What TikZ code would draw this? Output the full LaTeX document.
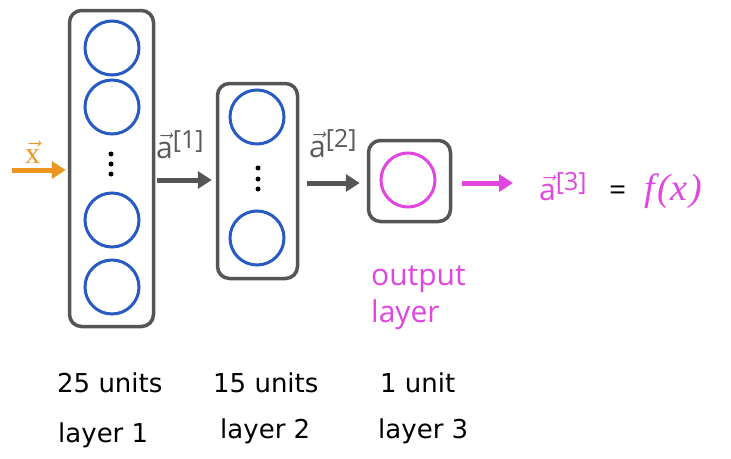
\RequirePackage{fix-cm}
\documentclass[tikz,border=0pt]{standalone}
\usepackage{fontspec}
\setmainfont{Open Sans}
\newfontfamily\botfont{DejaVu Sans}
\newfontfamily\xfont{Liberation Serif}
\usetikzlibrary{arrows.meta}
\definecolor{boxgray}{RGB}{85,85,85}
\definecolor{nblue}{RGB}{40,90,195}
\definecolor{xorange}{RGB}{235,150,30}
\definecolor{outmag}{RGB}{225,70,225}
\definecolor{labgray}{RGB}{90,90,90}
\newcommand\avec[1]{$\vec{\mbox{a}}$\raisebox{10pt}{\fontsize{25}{28}\selectfont[#1]}}
\tikzset{
 layerbox/.style={draw=boxgray, line width=3.5pt, rounded corners=12pt, inner sep=0pt},
 neuron/.style={circle, draw=nblue, line width=3pt, minimum size=54pt, inner sep=0pt},
 dotmark/.style={circle, fill=black, minimum size=5pt, inner sep=0pt},
 arr/.style={line width=5pt, -{Triangle[length=14pt,width=17pt]}},
 lab/.style={inner sep=0pt, anchor=base west, font=\fontsize{30}{36}\selectfont, text=labgray},
 bot/.style={inner sep=0pt, anchor=base west, font=\botfont\fontsize{26}{30}\selectfont},
}
\begin{document}
\begin{tikzpicture}[x=1pt,y=-1pt]
\useasboundingbox[fill=white] (0,0) rectangle (731,458);
% layer 1
\node[layerbox, minimum width=84pt, minimum height=316pt] (box1) at (111.5,168.5) {};
\node[neuron] (c11) at (112,48) {};
\node[neuron] (c12) at (112,107) {};
\node[neuron] (c13) at (112,220) {};
\node[neuron] (c14) at (112,287) {};
\node[dotmark] (d11) at (111,154) {};
\node[dotmark] (d12) at (111,164) {};
\node[dotmark] (d13) at (111,174) {};
% layer 2
\node[layerbox, minimum width=80pt, minimum height=195pt] (box2) at (257.5,181) {};
\node[neuron] (c21) at (257,117) {};
\node[neuron] (c22) at (257,238) {};
\node[dotmark] (d21) at (258,168) {};
\node[dotmark] (d22) at (258,179) {};
\node[dotmark] (d23) at (258,189) {};
% layer 3
\node[layerbox, minimum width=82pt, minimum height=81pt] (box3) at (409.5,181) {};
\node[neuron, draw=outmag] (c3) at (408,180) {};
% input
\coordinate (xin) at (12,170);
\draw[arr, draw=xorange, fill=xorange] (xin) -- ([xshift=-2pt]xin -| box1.west);
\node[inner sep=0pt, anchor=base west, text=xorange, font=\xfont\fontsize{30}{34}\selectfont] (xlab) at (25,163) {$\vec{\mbox{x}}$};
% arrows between layers
\draw[arr, draw=boxgray, fill=boxgray, shorten <=2pt, shorten >=4pt] ([yshift=-11.5pt]box1.east) -- ([yshift=-11.5pt]box1.east -| box2.west);
\node[lab] (a1) at (156,158) {\avec{1}};
\draw[arr, draw=boxgray, fill=boxgray, shorten <=8pt, shorten >=7pt] ([yshift=-2pt]box2.east) -- ([yshift=-2pt]box2.east -| box3.west);
\node[lab] (a2) at (309,157) {\avec{2}};
% output
\node[lab, text=outmag] (a3) at (539,200) {\avec{3}\hspace{0.75em}{\color{black}=}\hspace{0.6em}{\xfont\itshape\fontsize{38}{42}\selectfont f\kern3pt(x\kern2pt)}};
\coordinate (outend) at (513,183);
\draw[arr, draw=outmag, fill=outmag, shorten <=10pt] (box3.east |- outend) -- (outend);
\node[lab, text=outmag] (ol1) at (371,285) {output};
\node[lab, text=outmag] (ol2) at (371,322) {layer};
% bottom labels
\node[bot] (u1) at (57,392) {25 units};
\node[bot] (u2) at (213,392) {15 units};
\node[bot] (u3) at (380,392) {1 unit};
\node[bot] (l1) at (58,442) {layer 1};
\node[bot] (l2) at (220,438) {layer 2};
\node[bot] (l3) at (378,438) {layer 3};
\end{tikzpicture}
\end{document}
